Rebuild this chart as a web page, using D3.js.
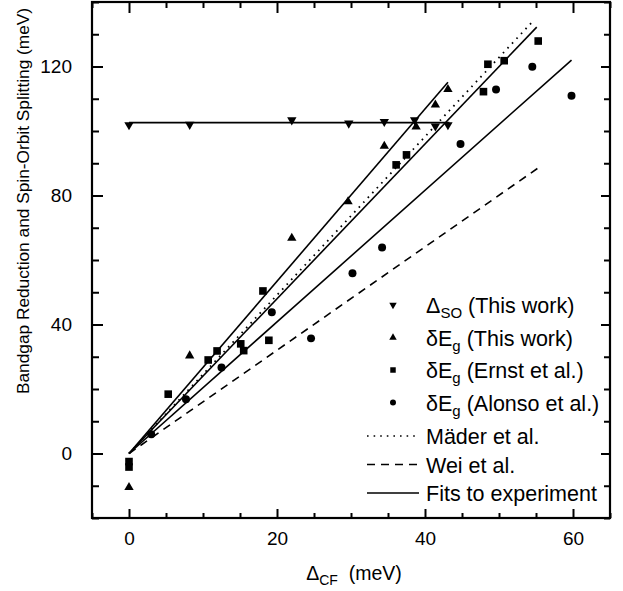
<!DOCTYPE html>
<html><head><meta charset="utf-8">
<script src="https://cdn.jsdelivr.net/npm/d3@7"></script>
<style>
body{margin:0;background:#fff}
svg{display:block}
text{font-family:"Liberation Sans",Arial,Helvetica,sans-serif;fill:#000}
</style>
</head><body><svg id="c" width="623" height="591"></svg>
<script>
// ---------- data ----------
const soThisWork = [[0,101.9],[8.2,102],[22,103.4],[29.7,102.4],[34.5,102.9],[38.6,103.4],[41.4,101.5],[43.1,101.9]];
const egThisWork = [[0,-10.5],[8.2,30.3],[22,66.8],[29.6,78.1],[34.5,95.3],[38.8,101.3],[41.4,108.1],[43.1,112.9]];
const egErnst = [[0,-2.5],[0,-4.2],[5.3,18.4],[10.7,29],[11.9,31.8],[15.1,34],[15.5,31.9],[18.1,50.4],[18.9,35.1],[36.1,89.5],[37.5,92.6],[47.9,112.2],[48.5,120.7],[50.7,121.8],[55.3,127.9]];
const egAlonso = [[3,6],[7.7,16.8],[12.5,26.7],[19.3,43.8],[24.6,35.7],[30.2,55.9],[34.2,63.9],[44.8,96],[49.6,112.9],[54.5,119.9],[59.8,110.9]];
const soFit = [[0,102.6],[43.3,102.6]];
const fitThisWork = [[0,0],[43.1,115.1]];
const fitErnst = [[0,0],[55.1,132.2]];
const fitAlonso = [[0,0],[59.8,122]];
const maederLine = [[0,0],[54.6,134.1]];
const weiLine = [[0,0],[55.2,88.4]];
const xMajorTicks = [0,20,40,60];
const yMajorTicks = [0,40,80,120];
const xMinorTicks = [-5,5,10,15,25,30,35,45,50,55,65];
const yMinorTicks = [-20,-10,10,20,30,50,60,70,90,100,110,130,140];
const legendMarkerItems = [
  {sym:"down", main:"Δ", sub:"SO", rest:" (This work)"},
  {sym:"up", main:"δE", sub:"g", rest:" (This work)"},
  {sym:"square", main:"δE", sub:"g", rest:" (Ernst et al.)"},
  {sym:"circle", main:"δE", sub:"g", rest:" (Alonso et al.)"}
];
const legendLineItems = [
  {style:"dotted", label:"Mäder et al."},
  {style:"dashed", label:"Wei et al."},
  {style:"solid", label:"Fits to experiment"}
];

// ---------- layout ----------
const svg = d3.select("#c");
const L=92, R=610, T=2, B=518;
const x = d3.scaleLinear().domain([-5,65]).range([L,R]);
const y = d3.scaleLinear().domain([-20,140]).range([B,T]);

// axes (ticks inward)
function styleAxis(g){ g.select(".domain").remove(); g.selectAll("line").attr("stroke","#000").attr("stroke-width",2); }
svg.append("g").attr("transform",`translate(0,${B})`)
  .call(d3.axisBottom(x).tickValues(xMajorTicks).tickSize(-9).tickPadding(14).tickFormat(d3.format("d")))
  .call(styleAxis).call(g=>g.selectAll("text").attr("font-size",19).attr("font-family","Liberation Sans, Arial, sans-serif"));
svg.append("g").attr("transform",`translate(0,${B})`)
  .call(d3.axisBottom(x).tickValues(xMinorTicks).tickSize(-5).tickFormat("")).call(styleAxis);
svg.append("g").attr("transform",`translate(0,${T})`)
  .call(d3.axisTop(x).tickValues(xMajorTicks).tickSize(-11).tickFormat("")).call(styleAxis);
svg.append("g").attr("transform",`translate(0,${T})`)
  .call(d3.axisTop(x).tickValues(xMinorTicks).tickSize(-6).tickFormat("")).call(styleAxis);
svg.append("g").attr("transform",`translate(${L},0)`)
  .call(d3.axisLeft(y).tickValues(yMajorTicks).tickSize(-11).tickPadding(20).tickFormat(d3.format("d")))
  .call(styleAxis).call(g=>g.selectAll("text").attr("font-size",19).attr("font-family","Liberation Sans, Arial, sans-serif"));
svg.append("g").attr("transform",`translate(${L},0)`)
  .call(d3.axisLeft(y).tickValues(yMinorTicks).tickSize(-7).tickFormat("")).call(styleAxis);
svg.append("g").attr("transform",`translate(${R},0)`)
  .call(d3.axisRight(y).tickValues(yMajorTicks).tickSize(-9).tickFormat("")).call(styleAxis);
svg.append("g").attr("transform",`translate(${R},0)`)
  .call(d3.axisRight(y).tickValues(yMinorTicks).tickSize(-6).tickFormat("")).call(styleAxis);

// frame
svg.append("rect").attr("x",L).attr("y",T).attr("width",R-L).attr("height",B-T)
  .attr("fill","none").attr("stroke","#000").attr("stroke-width",2.2);

// lines
const line = d3.line().x(d=>x(d[0])).y(d=>y(d[1]));
const lineStyles = {solid:null, dotted:"1.6,5", dashed:"8,6"};
function drawLine(data, style){
  svg.append("path").datum(data).attr("d",line).attr("fill","none")
    .attr("stroke","#000").attr("stroke-width",style==="dotted"?1.8:1.6)
    .attr("stroke-dasharray",lineStyles[style]);
}
drawLine(soFit,"solid");
drawLine(fitThisWork,"solid");
drawLine(fitErnst,"solid");
drawLine(fitAlonso,"solid");
drawLine(maederLine,"dotted");
drawLine(weiLine,"dashed");

// markers
const symPath = {
  up: s=>d3.symbol(d3.symbolTriangle, s)(),
  down: s=>d3.symbol(d3.symbolTriangle, s)(),
  square: s=>d3.symbol(d3.symbolSquare, s)(),
  circle: s=>d3.symbol(d3.symbolCircle, s)()
};
function drawPoints(data, sym, size){
  svg.append("g").selectAll("path").data(data).join("path")
    .attr("d", symPath[sym](size))
    .attr("transform", d=>`translate(${x(d[0])},${y(d[1])})${sym==="down"?" rotate(180)":""}`)
    .attr("fill","#000");
}
drawPoints(soThisWork,"down",38);
drawPoints(egThisWork,"up",38);
drawPoints(egErnst,"square",58);
drawPoints(egAlonso,"circle",50);

// legend
const legX = 393, textX = 426;
const lg = svg.append("g");
legendMarkerItems.forEach((it,i)=>{
  const cy = 305 + i*32.5;
  lg.append("path").attr("d", symPath[it.sym](it.sym==="square"?30:it.sym==="circle"?28:24))
    .attr("transform",`translate(${legX},${cy})${it.sym==="down"?" rotate(180)":""}`).attr("fill","#000");
  const t = lg.append("text").attr("x",textX).attr("y",cy+8).attr("font-size",21.5);
  t.append("tspan").text(it.main);
  t.append("tspan").attr("font-size",15).attr("dy",5).text(it.sub);
  t.append("tspan").attr("dy",-5).text(it.rest);
});
legendLineItems.forEach((it,i)=>{
  const cy = 436 + i*28.5;
  lg.append("line").attr("x1",367).attr("x2",419).attr("y1",cy).attr("y2",cy)
    .attr("stroke","#000").attr("stroke-width",style=>it.style==="dotted"?1.6:1.4)
    .attr("stroke-dasharray",lineStyles[it.style]);
  lg.append("text").attr("x",textX).attr("y",cy+8).attr("font-size",21.5).text(it.label);
});

// axis titles
const xt = svg.append("text").attr("x",(L+R)/2+3).attr("y",580).attr("text-anchor","middle").attr("font-size",19.5);
xt.append("tspan").text("Δ");
xt.append("tspan").attr("font-size",14).attr("dy",5).text("CF");
xt.append("tspan").attr("dy",-5).attr("xml:space","preserve").text("\u00a0\u00a0(meV)");

svg.append("text").attr("transform","rotate(-90)").attr("x",-201).attr("y",29)
  .attr("text-anchor","middle").attr("font-size",17.3)
  .text("Bandgap Reduction and Spin-Orbit Splitting (meV)");
</script>
</body></html>
